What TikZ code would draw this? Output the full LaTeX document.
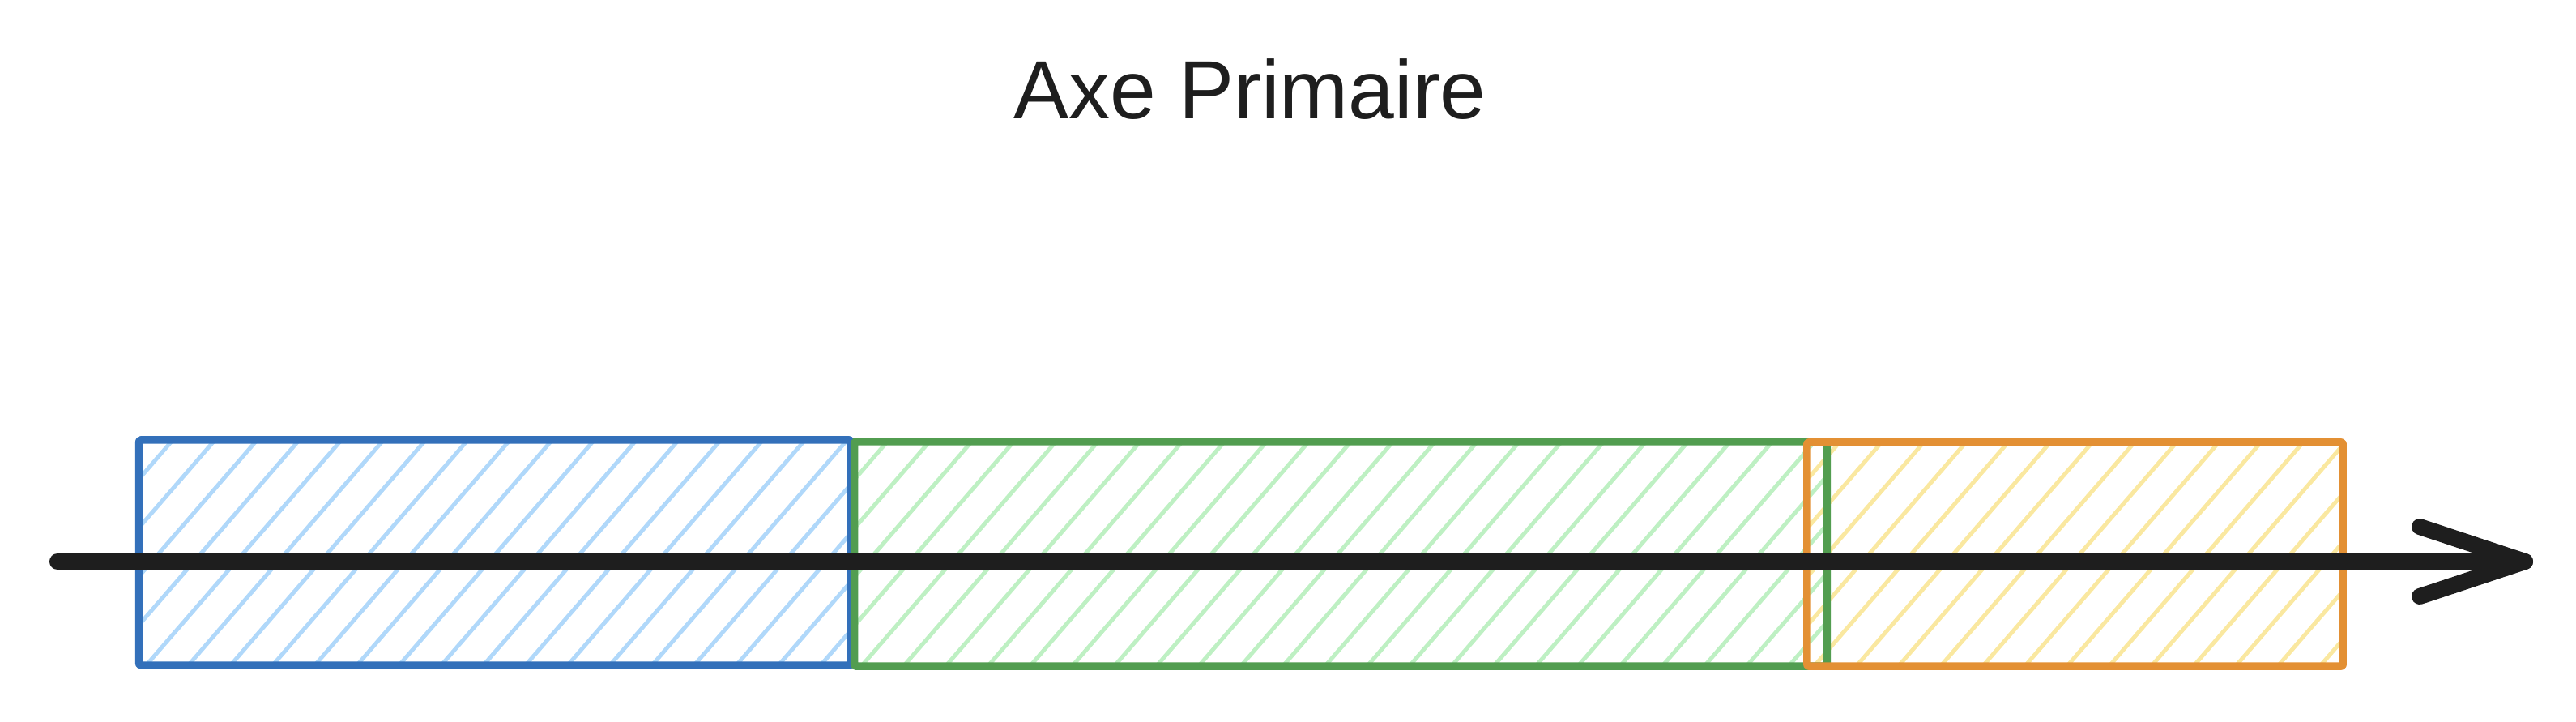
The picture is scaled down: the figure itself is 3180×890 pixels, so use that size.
\documentclass[tikz,border=0pt]{standalone}
\usepackage{fontspec}
\setmainfont{Liberation Sans}
\definecolor{bluestroke}{RGB}{51,112,186}
\definecolor{bluehach}{RGB}{176,216,250}
\definecolor{greenstroke}{RGB}{82,157,80}
\definecolor{greenhach}{RGB}{190,240,195}
\definecolor{orangestroke}{RGB}{227,144,52}
\definecolor{orangehach}{RGB}{250,232,160}
\definecolor{ink}{RGB}{30,30,30}
\tikzset{
  hachbox/.style={draw=none, inner sep=0pt, outer sep=0pt,
    path picture={\foreach \i in {-6,...,25}
      \draw[#1, line width=0.05cm, line cap=round]
        ([xshift=\i*0.52cm, yshift=-0.1cm]path picture bounding box.south west) -- ++(2.6cm,3.0cm);}},
  outline/.style={draw=#1, line width=0.095cm, line join=round, rounded corners=0.02cm},
  axisline/.style={draw=ink, line width=0.2cm, line cap=round, line join=round},
}
\begin{document}
\begin{tikzpicture}[x=0.01cm, y=-0.01cm]
\useasboundingbox (0,0) rectangle (3180,890);
% title
\node[font=\fontsize{29}{34}\selectfont, text=ink, inner sep=0pt] (title) at (1543,110) {Axe Primaire};
% hatched boxes
\node[hachbox=bluehach, minimum width=8.78cm, minimum height=2.78cm] (blue) at (611,682) {};
\node[hachbox=greenhach, minimum width=12.00cm, minimum height=2.77cm] (green) at (1655,683.5) {};
\node[hachbox=orangehach, minimum width=6.61cm, minimum height=2.76cm] (orange) at (2561.5,684) {};
% outlines
\draw[outline=bluestroke] (blue.north west) rectangle (blue.south east);
\draw[outline=greenstroke] (green.north west) rectangle (green.south east);
\draw[outline=orangestroke] (orange.north west) rectangle (orange.south east);
% axis arrow
\coordinate (axstart) at (71,693);
\coordinate (axend) at (3117,693);
\coordinate (wingup) at (2987,650);
\coordinate (wingdown) at (2987,736);
\draw[axisline] (axstart) -- (axend);
\draw[axisline] (wingup) -- (axend) -- (wingdown);
\end{tikzpicture}
\end{document}
